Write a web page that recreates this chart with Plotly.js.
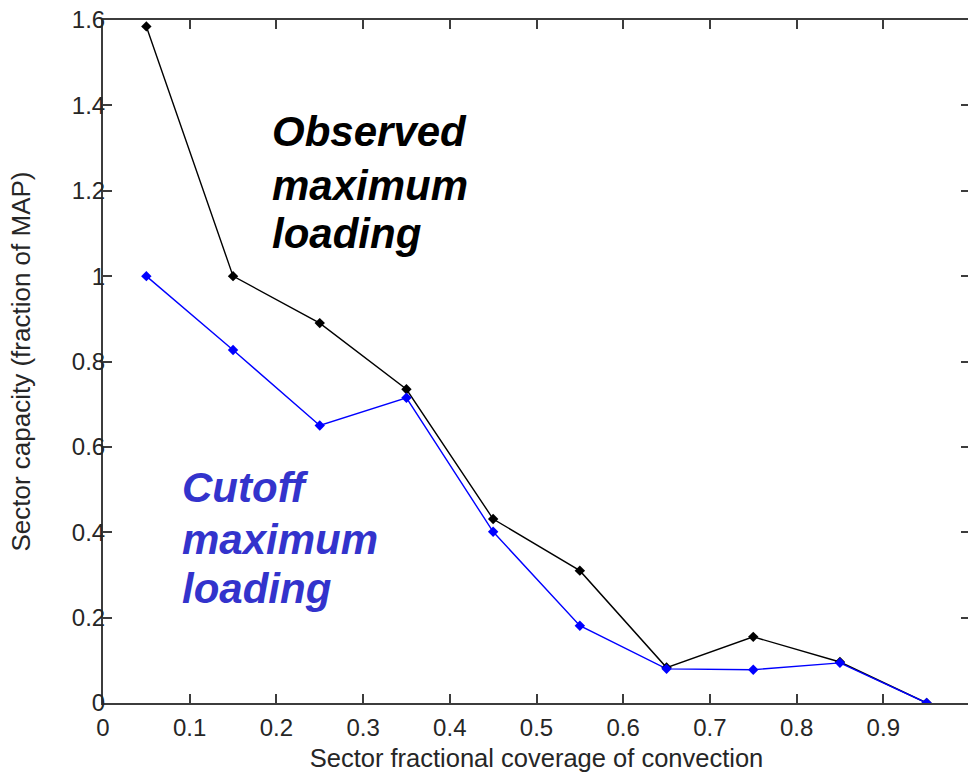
<!DOCTYPE html>
<html>
<head>
<meta charset="utf-8">
<script src="https://cdn.plot.ly/plotly-3.0.1.min.js"></script>
<style>
  html, body { margin: 0; padding: 0; background: #ffffff; overflow: hidden; }
  #chart { width: 972px; height: 773px; }
</style>
</head>
<body>
<div id="chart"></div>
<script>
// Sector coverage bins (bin centres)
const coverage = [0.05, 0.15, 0.25, 0.35, 0.45, 0.55, 0.65, 0.75, 0.85, 0.95];
// Observed maximum loading per bin (fraction of MAP)
const observedLoading = [1.585, 1.0, 0.89, 0.735, 0.431, 0.31, 0.083, 0.155, 0.096, 0.0];
// Cutoff maximum loading per bin (fraction of MAP)
const cutoffLoading = [1.0, 0.827, 0.65, 0.715, 0.401, 0.181, 0.08, 0.078, 0.094, 0.0];

const xTicks = [0, 0.1, 0.2, 0.3, 0.4, 0.5, 0.6, 0.7, 0.8, 0.9, 1];
const yTicks = [0, 0.2, 0.4, 0.6, 0.8, 1, 1.2, 1.4, 1.6];

const FONT = 'Liberation Sans, Arial, sans-serif';
const AXIS_COLOR = '#3c3c3c';
const TEXT_COLOR = '#262626';

const traces = [
  {
    x: coverage, y: observedLoading, type: 'scatter', mode: 'lines+markers',
    name: 'Observed maximum loading',
    line: { color: '#000000', width: 1.4 },
    marker: { symbol: 'diamond', size: 8, color: '#000000' }
  },
  {
    x: coverage, y: cutoffLoading, type: 'scatter', mode: 'lines+markers',
    name: 'Cutoff maximum loading',
    line: { color: '#0000ff', width: 1.4 },
    marker: { symbol: 'diamond', size: 8, color: '#0000ff' }
  }
];

function labelLines(lines, x, ys, color) {
  return lines.map((t, i) => ({
    text: '<b><i>' + t + '</i></b>',
    x: x, y: ys[i], xref: 'x', yref: 'y',
    xanchor: 'left', yanchor: 'middle', showarrow: false,
    font: { family: FONT, size: 42, color: color }
  }));
}

const annotations = [
  ...labelLines(['Observed', 'maximum', 'loading'], 0.193, [1.338, 1.213, 1.099], '#000000'),
  ...labelLines(['Cutoff', 'maximum', 'loading'], 0.089, [0.504, 0.384, 0.269], '#3333cc')
];

const axisCommon = {
  showgrid: false, zeroline: false,
  showline: true, linecolor: AXIS_COLOR, linewidth: 2, mirror: 'ticks',
  ticks: 'inside', ticklen: 9, tickwidth: 2, tickcolor: AXIS_COLOR,
  tickfont: { family: FONT, size: 24, color: TEXT_COLOR }
};

const layout = {
  width: 972, height: 773,
  margin: { l: 103, r: 2, t: 20, b: 70 },
  paper_bgcolor: '#ffffff', plot_bgcolor: '#ffffff',
  showlegend: false,
  xaxis: Object.assign({}, axisCommon, {
    range: [0, 1], tickvals: xTicks, ticktext: xTicks.map(String),
    ticklabelstandoff: 2,
    title: { text: 'Sector fractional coverage of convection', standoff: 9,
             font: { family: FONT, size: 25.5, color: TEXT_COLOR } }
  }),
  yaxis: Object.assign({}, axisCommon, {
    range: [0, 1.6], tickvals: yTicks, ticktext: yTicks.map(String),
    ticklabelstandoff: -9,
    title: { text: 'Sector capacity (fraction of MAP)', standoff: 34,
             font: { family: FONT, size: 26, color: TEXT_COLOR } }
  }),
  annotations: annotations
};

Plotly.newPlot('chart', traces, layout, { displayModeBar: false, staticPlot: true });
</script>
</body>
</html>
